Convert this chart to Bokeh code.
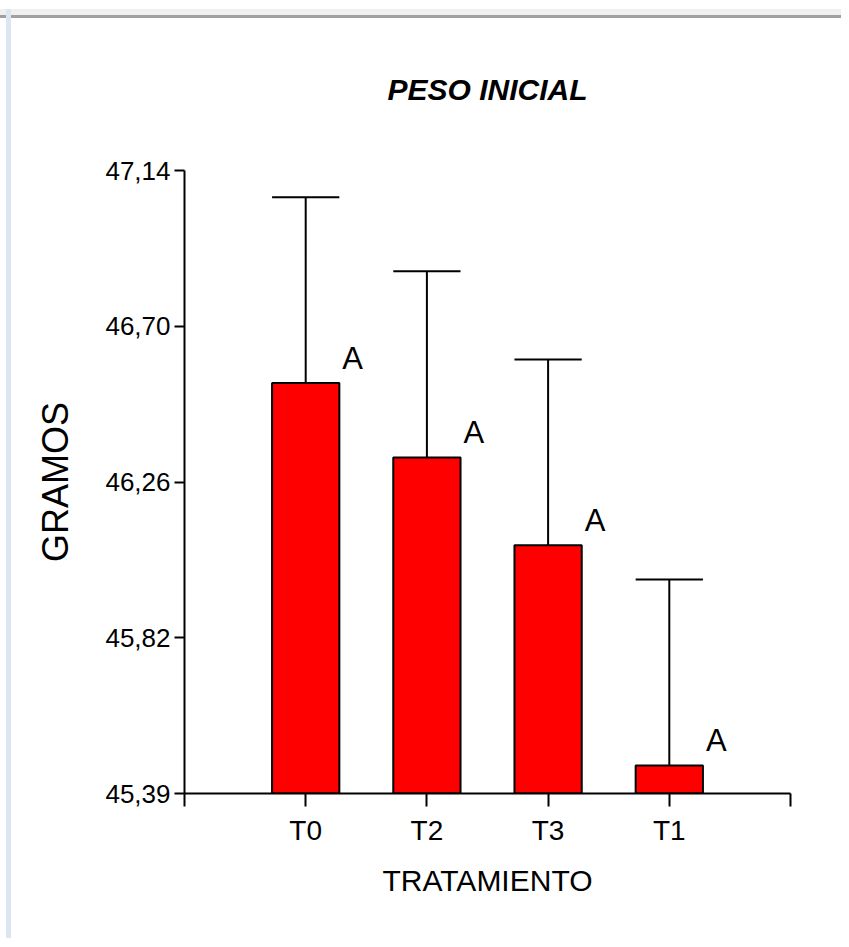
from bokeh.plotting import figure
from bokeh.models import Range1d, FixedTicker, ColumnDataSource
from bokeh.core.properties import value
from bokeh.embed import file_html
from bokeh.resources import INLINE

# ---- data ----
treatments = ["T0", "T2", "T3", "T1"]
positions = [0, 1, 2, 3]
means = [46.543, 46.334, 46.087, 45.469]
errors = [0.522, 0.523, 0.522, 0.522]
letters = ["A", "A", "A", "A"]
y_ticks = [45.39, 45.8275, 46.265, 46.7025, 47.14]
y_tick_labels = ["45,39", "45,82", "46,26", "46,70", "47,14"]
y_min, y_max = 45.39, 47.14

BAR_W = 0.555
FONT = "Liberation Sans"

tops = [m + e for m, e in zip(means, errors)]
src = ColumnDataSource(dict(
    x=positions, top=means, etop=tops,
    xl=[x - BAR_W / 2 for x in positions],
    xr=[x + BAR_W / 2 for x in positions],
    lab=letters,
))

p = figure(width=841, height=938, output_backend="svg", toolbar_location=None,
           x_range=Range1d(-1, 4), y_range=Range1d(y_min, y_max),
           min_border_left=184, min_border_right=51,
           min_border_top=170, min_border_bottom=145)
p.outline_line_color = None
p.xgrid.visible = False
p.ygrid.visible = False
p.background_fill_color = "white"
p.border_fill_alpha = 0
p.styles = {
    "background": ("linear-gradient(#dce6f2, #dce6f2) 6px 9px / 5px 100% no-repeat, "
                   "linear-gradient(#efefef, #efefef) 0 9px / 100% 6px no-repeat, "
                   "linear-gradient(#a0a0a0, #a0a0a0) 0 15px / 100% 3px no-repeat, "
                   "#ffffff"),
}

# bars
p.vbar(x="x", top="top", bottom=y_min, width=BAR_W, source=src,
       fill_color="#ff0000", line_color="black", line_width=2)
# error bars (upper only)
p.segment(x0="x", y0="top", x1="x", y1="etop", source=src,
          line_color="black", line_width=2)
p.segment(x0="xl", y0="etop", x1="xr", y1="etop", source=src,
          line_color="black", line_width=2)
# letters
p.text(x="xr", y="top", text="lab", source=src, x_offset=3, y_offset=-25,
       text_align="left", text_baseline="alphabetic",
       text_font=value(FONT), text_font_size="31px", text_color="black")

# title
p.title.text = "PESO INICIAL"
p.title.text_font = FONT
p.title.text_font_style = "bold italic"
p.title.text_font_size = "30px"
p.title.text_color = "black"
p.title.align = "center"
p.title.standoff = 130

# y axis
ya = p.yaxis[0]
ya.ticker = FixedTicker(ticks=y_ticks)
ya.major_label_overrides = {t: l for t, l in zip(y_ticks, y_tick_labels)}
ya.minor_tick_line_color = None
ya.major_tick_in = 0
ya.major_tick_out = 10
ya.major_tick_line_width = 2
ya.axis_line_width = 2
ya.major_label_text_font = FONT
ya.major_label_text_font_size = "26px"
ya.major_label_text_color = "black"
ya.major_label_standoff = 4
ya.axis_label = "GRAMOS"
ya.axis_label_text_font = FONT
ya.axis_label_text_font_style = "normal"
ya.axis_label_text_font_size = "36px"
ya.axis_label_text_color = "black"
ya.axis_label_standoff = 26

# x axis
xa = p.xaxis[0]
xa.ticker = FixedTicker(ticks=[-1] + positions + [4])
ov = {-1: "", 4: ""}
ov.update({x: t for x, t in zip(positions, treatments)})
xa.major_label_overrides = ov
xa.minor_tick_line_color = None
xa.major_tick_in = 0
xa.major_tick_out = 13
xa.major_tick_line_width = 2
xa.axis_line_width = 2
xa.major_label_text_font = FONT
xa.major_label_text_font_size = "28px"
xa.major_label_text_color = "black"
xa.major_label_standoff = 8
xa.axis_label = "TRATAMIENTO"
xa.axis_label_text_font = FONT
xa.axis_label_text_font_style = "normal"
xa.axis_label_text_font_size = "30px"
xa.axis_label_text_color = "black"
xa.axis_label_standoff = 15

open("out.html", "w").write(file_html(p, INLINE))
